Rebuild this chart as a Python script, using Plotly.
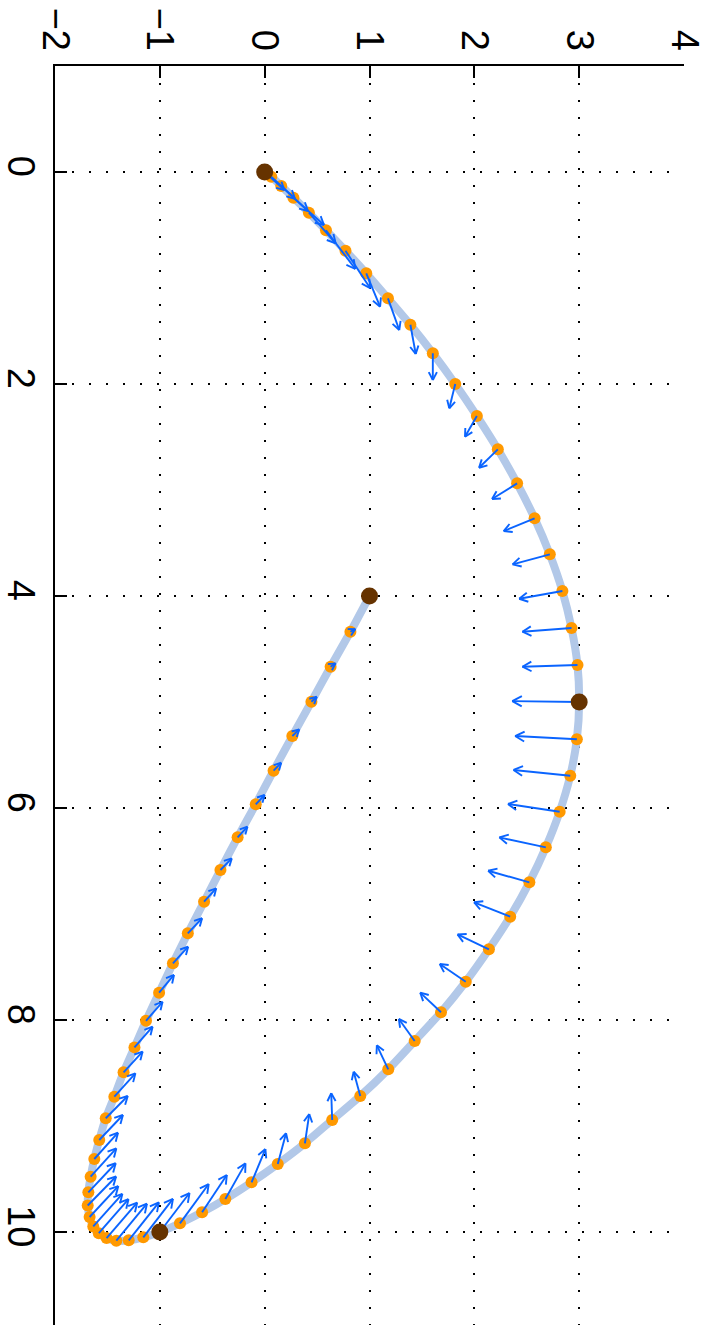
import math
import plotly.graph_objects as go

# Sample points along the curve (original x = vertical axis, original y = horizontal axis)
curve_x = [0.000, 0.044, 0.132, 0.242, 0.384, 0.550, 0.742, 0.956, 1.192, 1.441,
           1.710, 2.000, 2.302, 2.616, 2.937, 3.267, 3.607, 3.953, 4.302, 4.651,
           5.000, 5.351, 5.695, 6.035, 6.371, 6.701, 7.025, 7.333, 7.639, 7.927,
           8.198, 8.465, 8.717, 8.943, 9.163, 9.358, 9.531, 9.689, 9.814, 9.918,
           10.000, 10.050, 10.078, 10.082, 10.057, 10.011, 9.947, 9.858, 9.750, 9.625,
           9.478, 9.311, 9.132, 8.927, 8.723, 8.493, 8.258, 8.007, 7.742, 7.465,
           7.182, 6.884, 6.585, 6.276, 5.965, 5.648, 5.321, 4.997, 4.667, 4.337,
           4.000]
curve_y = [0.000, 0.063, 0.158, 0.274, 0.422, 0.585, 0.771, 0.969, 1.176, 1.390,
           1.604, 1.818, 2.024, 2.224, 2.408, 2.575, 2.720, 2.840, 2.927, 2.984,
           3.000, 2.978, 2.915, 2.814, 2.682, 2.525, 2.342, 2.139, 1.918, 1.682,
           1.431, 1.179, 0.912, 0.644, 0.384, 0.125, -0.125, -0.375, -0.597, -0.808,
           -1.000, -1.158, -1.297, -1.415, -1.508, -1.582, -1.635, -1.670, -1.688, -1.682,
           -1.660, -1.625, -1.578, -1.516, -1.434, -1.346, -1.242, -1.132, -1.007, -0.875,
           -0.733, -0.578, -0.422, -0.258, -0.085, 0.085, 0.264, 0.446, 0.629, 0.818,
           1.000]

# Arrow components at each sample point (original x and y directions)
arrow_x = [0.170, 0.208, 0.236, 0.258, 0.289, 0.365, 0.355, 0.315, 0.299, 0.276,
           0.252, 0.229, 0.195, 0.174, 0.148, 0.120, 0.094, 0.073, 0.035, 0.016,
           -0.008, -0.030, -0.054, -0.073, -0.094, -0.109, -0.136, -0.140, -0.167, -0.185,
           -0.208, -0.226, -0.229, -0.252, -0.276, -0.290, -0.314, -0.337, -0.352, -0.371,
           -0.368, -0.363, -0.358, -0.349, -0.335, -0.321, -0.307, -0.292, -0.274, -0.274,
           -0.267, -0.248, -0.236, -0.210, -0.220, -0.195, -0.195, -0.179, -0.167, -0.157,
           -0.142, -0.126, -0.110, -0.100, -0.088, -0.075, -0.063, -0.047, -0.032, -0.025,
           -0.012]
arrow_y = [0.189, 0.226, 0.255, 0.292, 0.255, 0.280, 0.236, 0.132, 0.108, 0.051,
           0.000, -0.057, -0.113, -0.179, -0.239, -0.295, -0.355, -0.412, -0.468, -0.525,
           -0.638, -0.589, -0.541, -0.493, -0.443, -0.393, -0.345, -0.299, -0.248, -0.198,
           -0.151, -0.109, -0.063, -0.009, 0.041, 0.079, 0.132, 0.192, 0.236, 0.274,
           0.283, 0.283, 0.288, 0.292, 0.292, 0.283, 0.278, 0.274, 0.271, 0.261,
           0.245, 0.226, 0.226, 0.210, 0.201, 0.182, 0.173, 0.158, 0.142, 0.145,
           0.136, 0.116, 0.108, 0.094, 0.085, 0.073, 0.066, 0.051, 0.047, 0.047,
           0.030]

# Control (knot) points
knot_x = [0, 5, 10, 4]
knot_y = [0, 3, -1, 1]

x_ticks = [0, 2, 4, 6, 8, 10]
y_ticks = [-2, -1, 0, 1, 2, 3, 4]

PX = 106.0  # pixels per data unit (equal aspect)

# Build quiver line segments (shafts + open V heads)
qh, qv = [], []
ang = math.radians(28)
for x0, y0, dx, dy in zip(curve_x, curve_y, arrow_x, arrow_y):
    L = math.hypot(dx, dy)
    if L < 1e-9:
        continue
    h0, v0 = y0, x0
    h1, v1 = y0 + dy, x0 + dx
    qh += [h0, h1, None]
    qv += [v0, v1, None]
    w = (7.5 + 0.05 * L * PX) / PX
    uh, uv = dy / L, dx / L
    for s in (1, -1):
        ca, sa = math.cos(s * ang), math.sin(s * ang)
        rh = uh * ca - uv * sa
        rv = uh * sa + uv * ca
        qh += [h1 - w * rh, h1, None]
        qv += [v1 - w * rv, v1, None]

fig = go.Figure()
fig.add_trace(go.Scatter(x=curve_y, y=curve_x, mode="lines",
                         line=dict(color="#B2C8E8", width=8, shape="spline", smoothing=0.6),
                         hoverinfo="skip", showlegend=False))
fig.add_trace(go.Scatter(x=curve_y, y=curve_x, mode="markers",
                         marker=dict(color="#FF9900", size=12, line=dict(width=0)),
                         showlegend=False))
fig.add_trace(go.Scatter(x=qh, y=qv, mode="lines",
                         line=dict(color="#0A64FF", width=1.9),
                         hoverinfo="skip", showlegend=False))
fig.add_trace(go.Scatter(x=knot_y, y=knot_x, mode="markers",
                         marker=dict(color="#663300", size=17, line=dict(width=0)),
                         showlegend=False))

axis_font = dict(family="Liberation Sans, Arial, sans-serif", size=38, color="black")
grid_common = dict(ticks="inside", ticklen=12, tickwidth=1.5, tickcolor="black",
                   showline=True, linewidth=1.5, linecolor="black", mirror=False,
                   showgrid=True, gridcolor="black", gridwidth=1.5, griddash="1.5px,15.5px",
                   zeroline=False, tickangle=90, tickfont=axis_font, fixedrange=True)
fig.update_layout(
    width=708, height=1325,
    margin=dict(l=48, r=24, t=66, b=0, pad=0),
    paper_bgcolor="white", plot_bgcolor="white",
    showlegend=False,
    xaxis=dict(range=[-2, 4], side="top", tickmode="array", tickvals=y_ticks,
               ticktext=[("\u2212" + str(-t)) if t < 0 else str(t) for t in y_ticks],
               **grid_common),
    yaxis=dict(range=[10.877, -1], tickmode="array", tickvals=x_ticks,
               ticktext=[str(t) for t in x_ticks], **grid_common),
)

fig.write_html("out.html", config={"displayModeBar": False},
               post_script="document.body.style.margin='0';document.body.style.overflow='hidden';")
